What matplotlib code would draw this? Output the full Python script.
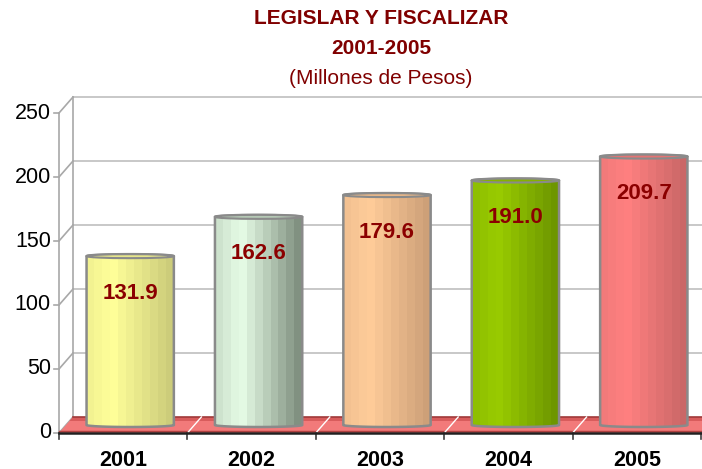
import numpy as np
import matplotlib
matplotlib.use('Agg')
import matplotlib.pyplot as plt
from matplotlib.patches import Polygon, Ellipse
from matplotlib.colors import to_rgb

# data
years = ['2001', '2002', '2003', '2004', '2005']
values = [131.9, 162.6, 179.6, 191.0, 209.7]
light = ['#FFFF99', '#E6FCE6', '#FFCC99', '#99CC00', '#FF8080']
dark = ['#C8C878', '#7A8A7A', '#C99D76', '#6A9200', '#C66565']
y_ticks = [0, 50, 100, 150, 200, 250]

title_color = '#800000'
label_color = '#8B0000'
grid_color = '#C4C4C4'

plt.rcParams['font.family'] = ['Liberation Sans', 'DejaVu Sans']

W, H = 702, 469
fig = plt.figure(figsize=(W / 100, H / 100), dpi=100)
left, bottom, right, top = 59, 433, 701, 113   # front plane in pixels
ax = fig.add_axes([left / W, 1 - bottom / H, (right - left) / W, (bottom - top) / H])
ax.set_xlim(0, 5)
ax.set_ylim(0, 250)
ax.axis('off')

px_x = (right - left) / 5
px_y = (bottom - top) / 250
DX = 14 / px_x       # depth offset, data units
DY = 16 / px_y

# back wall + side wall
for t in y_ticks[1:]:
    ax.plot([DX, 5 + DX], [t + DY, t + DY], color=grid_color, lw=1.3, clip_on=False, zorder=1)
for t in y_ticks:
    ax.plot([0, DX], [t, t + DY], color='#A8A8A8', lw=1.2, clip_on=False, zorder=1)
    ax.plot([-5 / px_x, 0], [t, t], color='#A8A8A8', lw=1.2, clip_on=False, zorder=1)
    ax.text(-8 / px_x, t, str(t), ha='right', va='center', fontsize=15.5, color='black')
ax.plot([DX, DX], [DY, 250 + DY], color='#A8A8A8', lw=1.2, clip_on=False, zorder=1)
ax.plot([0, 0], [0, 250], color='#A8A8A8', lw=1.2, clip_on=False, zorder=1)

# floor
ax.add_patch(Polygon([(0, 0), (5, 0), (5 + DX, DY), (DX, DY)], closed=True,
                     facecolor='#F27A7A', edgecolor='none', clip_on=False, zorder=2))
ax.add_patch(Polygon([(DX, DY), (5 + DX, DY), (5 + DX * 0.75, DY * 0.75), (DX * 0.75, DY * 0.75)],
                     closed=True, facecolor='#D85C5C', edgecolor='none', clip_on=False, zorder=2))
ax.plot([DX, 5 + DX], [DY, DY], color='#A03A3A', lw=1.2, clip_on=False, zorder=2)
ax.plot([0, 5], [1.5, 1.5], color='#B04040', lw=1.0, clip_on=False, zorder=2)
for i in range(1, 5):
    ax.plot([i, i + DX], [0, DY], color='white', lw=1.0, clip_on=False, zorder=2)
for i in range(6):
    ax.plot([i, i], [0, -6 / px_y], color='#404040', lw=1.2, clip_on=False, zorder=2)
ax.plot([0, 5], [0, 0], color='#202020', lw=1.8, clip_on=False, zorder=3)


def shade(c1, c2, t):
    a, b = np.array(to_rgb(c1)), np.array(to_rgb(c2))
    return tuple(a + (b - a) * t)


# cylinders
bw = 0.68
n_strip = 11
cap_h = 4 / px_y
for i, v in enumerate(values):
    x0 = i + (1 - bw) / 2 + DX / 2
    y0 = DY / 2
    cx = x0 + bw / 2
    th = np.linspace(0, np.pi, 40)
    upper = [(cx - np.cos(a) * bw / 2, y0 + v + np.sin(a) * cap_h / 2) for a in th]
    lower = [(cx + np.cos(a) * bw / 2, y0 - np.sin(a) * cap_h / 2) for a in th]
    outline = Polygon(upper + lower, closed=True, facecolor='none', edgecolor='#8A8A8A',
                      lw=1.8, clip_on=False, zorder=6)
    ax.add_patch(outline)
    for j in range(n_strip):
        f = (j + 0.5) / n_strip
        t = (0.3 - f) * 0.9 if f < 0.3 else (f - 0.3) / 0.7
        r = plt.Rectangle((x0 + j * bw / n_strip, y0 - cap_h), bw / n_strip * 1.02, v + 2 * cap_h,
                          facecolor=shade(light[i], dark[i], t), edgecolor='none', zorder=5)
        r.set_clip_path(outline)
        ax.add_patch(r)
    ax.add_patch(Ellipse((cx, y0 + v), bw, cap_h, facecolor=shade(light[i], dark[i], 0.45),
                         edgecolor='#8A8A8A', lw=1.5, clip_on=False, zorder=7))
    ax.text(cx, y0 + v - 37 / px_y, f'{v:.1f}', ha='center', va='center', fontsize=16,
            fontweight='bold', color=label_color, zorder=8)
    ax.text(i + 0.5, -(460 - bottom) / px_y, years[i], ha='center', va='center',
            fontsize=15.5, fontweight='bold', color='black')

fig.text(381 / W, 1 - 18 / H, 'LEGISLAR Y FISCALIZAR', ha='center', va='center',
         fontsize=15, fontweight='bold', color=title_color)
fig.text(381 / W, 1 - 48 / H, '2001-2005', ha='center', va='center',
         fontsize=15, fontweight='bold', color=title_color)
fig.text(381 / W, 1 - 78 / H, '(Millones de Pesos)', ha='center', va='center',
         fontsize=15, color=title_color)

fig.savefig('out.png', dpi=100)
